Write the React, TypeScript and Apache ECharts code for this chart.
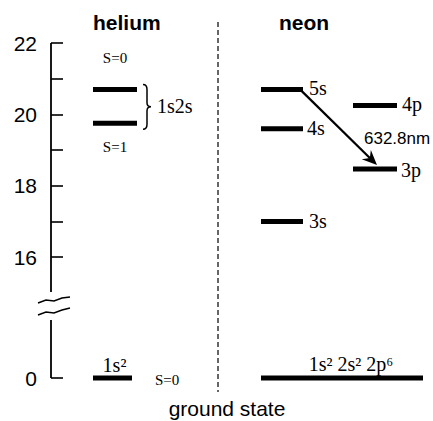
import React, { useEffect, useRef } from "react";
import * as echarts from "echarts";

// ---- Data (energies in eV) ----
const heliumLevelNames = ["1s2s (S=0)", "1s2s (S=1)", "1s²"];
const heliumLevelEnergies = [20.7, 19.75, 0];
const heliumLevelLabels = ["S=0", "S=1", "1s²"];
const heliumGroundSpin = "S=0";
const heliumPairLabel = "1s2s";

const neonLevelNames = ["5s", "4s", "3s", "4p", "3p", "ground"];
const neonLevelEnergies = [20.7, 19.6, 17.0, 20.25, 18.47, 0];
const neonLevelLabels = ["5s", "4s", "3s", "4p", "3p", "1s² 2s² 2p⁶"];

const yTickValues = [0, 16, 17, 18, 19, 20, 21, 22];
const yTickLabelValues = [0, 16, 18, 20, 22];
const laserFrom = "5s";
const laserTo = "3p";
const laserLabel = "632.8nm";

const panelTitles = ["helium", "neon"];
const xAxisTitle = "ground state";

// ---- Axis break mapping ----
const ZERO_DISP = 12.61; // display position of 0 eV below the axis break
const BREAK_TOP = 15.02;
const BREAK_BOTTOM = 14.24;
const BREAK_MID = 14.63;
const disp = (e: number) => (e < 10 ? ZERO_DISP + e : e);
const undisp = (v: number) => (v < 15 ? Math.round(v - ZERO_DISP) : Math.round(v));

// ---- Layout (not data) ----
type Lay = { x0: number; x1: number; pos: "right" | "center"; dx: number; dy: number; size: number; font: string };
const SERIF = "'Liberation Serif', 'DejaVu Serif', serif";
const SANS = "'Liberation Sans', Arial, sans-serif";
const heliumLayout: Lay[] = [
  { x0: 42, x1: 86, pos: "center", dx: 0, dy: -31, size: 15, font: SERIF },
  { x0: 42, x1: 86, pos: "center", dx: 0, dy: 24, size: 15, font: SERIF },
  { x0: 42, x1: 81, pos: "center", dx: 2, dy: -13, size: 20, font: SERIF },
];
const neonLayout: Lay[] = [
  { x0: 210, x1: 252, pos: "right", dx: 6, dy: -1, size: 20, font: SERIF },
  { x0: 210, x1: 252, pos: "right", dx: 4, dy: -1, size: 20, font: SERIF },
  { x0: 210, x1: 252, pos: "right", dx: 6, dy: 0, size: 20, font: SERIF },
  { x0: 302, x1: 346, pos: "right", dx: 5, dy: -1, size: 20, font: SERIF },
  { x0: 302, x1: 346, pos: "right", dx: 4, dy: 1, size: 20, font: SERIF },
  { x0: 210, x1: 372, pos: "center", dx: 9, dy: -14, size: 20, font: SERIF },
];

export default function App() {
  const ref = useRef<HTMLDivElement>(null);

  useEffect(() => {
    if (!ref.current) return;
    const chart = echarts.init(ref.current, undefined, { renderer: "svg" });

    const rows = [
      ...heliumLevelNames.map((n, i) => ({ name: n, e: heliumLevelEnergies[i], label: heliumLevelLabels[i], lay: heliumLayout[i] })),
      ...neonLevelNames.map((n, i) => ({ name: n, e: neonLevelEnergies[i], label: neonLevelLabels[i], lay: neonLayout[i] })),
    ];

    const iFrom = neonLevelNames.indexOf(laserFrom);
    const iTo = neonLevelNames.indexOf(laserTo);
    const arrowStart = [neonLayout[iFrom].x1 - 3, neonLevelEnergies[iFrom]];
    const arrowEnd = [neonLayout[iTo].x0 + 24, neonLevelEnergies[iTo] + 0.11];

    const option: any = {
      animation: false,
      backgroundColor: "#fff",
      grid: { left: 51, right: 0, top: 43, bottom: 39 },
      xAxis: { type: "value", min: 0, max: 382, show: false },
      yAxis: {
        type: "value",
        min: 12.5,
        max: 22,
        axisLine: { show: false },
        splitLine: { show: false },
        axisTick: {
          show: true,
          inside: true,
          length: 12,
          lineStyle: { color: "#000", width: 1.6 },
          customValues: yTickValues.map(disp),
        },
        axisLabel: {
          customValues: yTickLabelValues.map(disp),
          formatter: (v: number) => String(undisp(v)),
          fontSize: 21,
          fontFamily: SANS,
          color: "#000",
          margin: 14,
        },
      },
      graphic: [
        {
          type: "line",
          shape: { x1: 218, y1: 22, x2: 218, y2: 392 },
          style: { stroke: "#666", lineWidth: 2, lineDash: [5, 3] },
        },
        {
          type: "text",
          x: 93,
          y: 22,
          style: { text: panelTitles[0], fontSize: 21, fontWeight: "bold", fontFamily: SANS, fill: "#000", align: "left", verticalAlign: "middle" },
        },
        {
          type: "text",
          x: 279,
          y: 22,
          style: { text: panelTitles[1], fontSize: 21, fontWeight: "bold", fontFamily: SANS, fill: "#000", align: "left", verticalAlign: "middle" },
        },
        {
          type: "text",
          x: 227,
          y: 408,
          style: { text: xAxisTitle, fontSize: 21, fontFamily: SANS, fill: "#000", align: "center", verticalAlign: "middle" },
        },
      ],
      series: [
        // axis line segments with break
        {
          type: "custom",
          coordinateSystem: "cartesian2d",
          clip: false,
          silent: true,
          data: [
            [22, BREAK_TOP],
            [BREAK_BOTTOM, ZERO_DISP],
          ],
          renderItem: (params: any, api: any) => {
            const a = api.coord([0, api.value(0)]);
            const b = api.coord([0, api.value(1)]);
            const children: any[] = [
              { type: "line", shape: { x1: a[0], y1: a[1], x2: b[0], y2: b[1] }, style: { stroke: "#000", lineWidth: 1.8 } },
            ];
            if (params.dataIndex === 0) {
              const c = api.coord([0, BREAK_MID]);
              const up = [[-13, -3], [-5, -6], [3, -5], [11, -8], [19, -9]].map((p) => [c[0] + p[0], c[1] + p[1]]);
              const lo = [[-13, 9], [-5, 6], [3, 7], [11, 4], [19, 2]].map((p) => [c[0] + p[0], c[1] + p[1]]);
              children.push({ type: "polyline", shape: { points: up }, style: { stroke: "#000", lineWidth: 1.4, fill: "none" } });
              children.push({ type: "polyline", shape: { points: lo }, style: { stroke: "#000", lineWidth: 1.4, fill: "none" } });
            }
            return { type: "group", children };
          },
        },
        // energy levels
        {
          type: "custom",
          name: "levels",
          coordinateSystem: "cartesian2d",
          clip: false,
          data: rows.map((r) => ({ name: r.name, value: [r.lay.x0, r.lay.x1, disp(r.e)] })),
          renderItem: (params: any, api: any) => {
            const r = rows[params.dataIndex];
            const a = api.coord([api.value(0), api.value(2)]);
            const b = api.coord([api.value(1), api.value(2)]);
            const lay = r.lay;
            const tx = lay.pos === "right" ? b[0] + lay.dx : (a[0] + b[0]) / 2 + lay.dx;
            const ty = a[1] + lay.dy;
            const children: any[] = [
              { type: "line", shape: { x1: a[0], y1: a[1], x2: b[0], y2: b[1] }, style: { stroke: "#000", lineWidth: 5 } },
              {
                type: "text",
                x: tx,
                y: ty,
                style: {
                  text: r.label,
                  fontSize: lay.size,
                  fontFamily: lay.font,
                  fill: "#000",
                  align: lay.pos === "right" ? "left" : "center",
                  verticalAlign: "middle",
                },
              },
            ];
            if (r.name === "1s²") {
              children.push({
                type: "text",
                x: b[0] + 23,
                y: b[1] + 2,
                style: { text: heliumGroundSpin, fontSize: 15, fontFamily: SERIF, fill: "#000", align: "left", verticalAlign: "middle" },
              });
            }
            return { type: "group", children };
          },
        },
        // brace grouping the 1s2s levels
        {
          type: "custom",
          coordinateSystem: "cartesian2d",
          clip: false,
          silent: true,
          data: [[92, heliumLevelEnergies[0] + 0.14, heliumLevelEnergies[1] - 0.17]],
          renderItem: (params: any, api: any) => {
            const t = api.coord([api.value(0), api.value(1)]);
            const bt = api.coord([api.value(0), api.value(2)]);
            const x = t[0];
            const yt = t[1];
            const yb = bt[1];
            const ym = (yt + yb) / 2;
            const d = `M${x} ${yt} Q${x + 4} ${yt} ${x + 4} ${yt + 5} L${x + 4} ${ym - 4} Q${x + 4} ${ym} ${x + 8} ${ym} Q${x + 4} ${ym} ${x + 4} ${ym + 4} L${x + 4} ${yb - 5} Q${x + 4} ${yb} ${x} ${yb}`;
            return {
              type: "group",
              children: [
                { type: "path", shape: { pathData: d }, style: { stroke: "#000", lineWidth: 1.5, fill: "none" } },
                {
                  type: "text",
                  x: x + 14,
                  y: ym - 1,
                  style: { text: heliumPairLabel, fontSize: 20, fontFamily: SERIF, fill: "#000", align: "left", verticalAlign: "middle" },
                },
              ],
            };
          },
        },
        // laser transition arrow
        {
          type: "custom",
          coordinateSystem: "cartesian2d",
          clip: false,
          silent: true,
          data: [[arrowStart[0], arrowStart[1], arrowEnd[0], arrowEnd[1]]],
          renderItem: (params: any, api: any) => {
            const p0 = api.coord([api.value(0), api.value(1)]);
            const p1 = api.coord([api.value(2), api.value(3)]);
            const dx = p1[0] - p0[0];
            const dy = p1[1] - p0[1];
            const len = Math.sqrt(dx * dx + dy * dy);
            const ux = dx / len;
            const uy = dy / len;
            const nx = -uy;
            const ny = ux;
            const hl = 15;
            const hw = 6.5;
            const notch = 10;
            const base = [p1[0] - ux * hl, p1[1] - uy * hl];
            const head = [
              [p1[0], p1[1]],
              [base[0] + nx * hw, base[1] + ny * hw],
              [p1[0] - ux * notch, p1[1] - uy * notch],
              [base[0] - nx * hw, base[1] - ny * hw],
            ];
            return {
              type: "group",
              children: [
                {
                  type: "line",
                  shape: { x1: p0[0], y1: p0[1], x2: p1[0] - ux * notch, y2: p1[1] - uy * notch },
                  style: { stroke: "#000", lineWidth: 2.2 },
                },
                { type: "polygon", shape: { points: head }, style: { fill: "#000" } },
                {
                  type: "text",
                  x: 364,
                  y: 138,
                  style: { text: laserLabel, fontSize: 17, fontFamily: SANS, fill: "#000", align: "left", verticalAlign: "middle" },
                },
              ],
            };
          },
        },
      ],
    };

    chart.setOption(option);
    return () => chart.dispose();
  }, []);

  return <div ref={ref} style={{ width: 433, height: 421, position: "absolute", left: 0, top: 0 }} />;
}
